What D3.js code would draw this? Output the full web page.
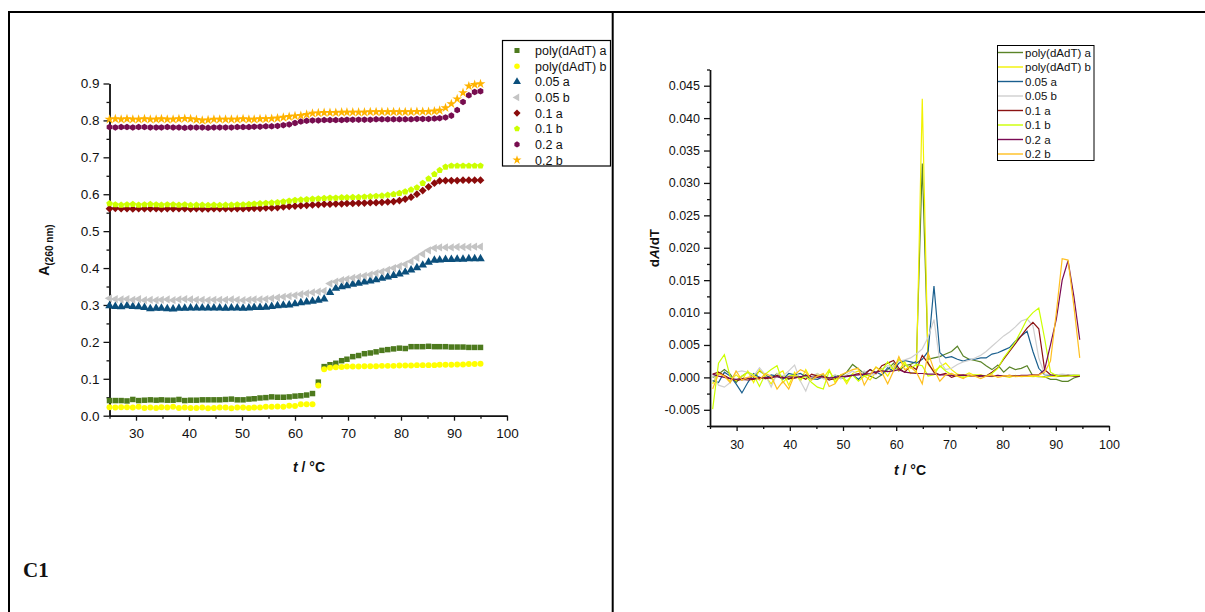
<!DOCTYPE html>
<html><head><meta charset="utf-8">
<script src="https://cdn.jsdelivr.net/npm/d3@7"></script>
<style>body{margin:0;background:#fff} svg{display:block} text{font-family:"Liberation Sans",Arial,sans-serif;fill:#111}</style>
</head><body><svg id="c" width="1205" height="612"></svg>
<script>
// ---------- DATA ----------
const seriesNames = ["poly(dAdT) a","poly(dAdT) b","0.05 a","0.05 b","0.1 a","0.1 b","0.2 a","0.2 b"];
const markerColors = ["#4d7a1e","#ffff00","#0b4f7c","#c4c4c4","#8b0b0b","#ccff00","#770d4f","#ffb300"];
const lineColors   = ["#5a8428","#f2f200","#1a5f8e","#cfcfcf","#8b1212","#ccff00","#7a0a55","#ffbf1f"];

// temperatures of absorbance readings (°C)
const temps = [25.0,26.1,27.2,28.3,29.4,30.5,31.6,32.7,33.8,34.8,35.9,37.0,38.1,39.2,40.3,41.4,42.5,43.6,44.7,45.8,
  46.9,48.0,49.1,50.2,51.3,52.3,53.4,54.5,55.6,56.7,57.8,58.9,60.0,61.1,62.2,63.3,64.4,65.5,66.6,67.7,
  68.8,69.8,70.9,72.0,73.1,74.2,75.3,76.4,77.5,78.6,79.7,80.8,81.9,83.0,84.1,85.2,86.3,87.3,88.4,89.5,
  90.6,91.7,92.8,93.9,95.0];
// temperatures of derivative points (°C)
const tempsMid = [25.5,26.6,27.7,28.8,29.9,31.0,32.1,33.2,34.3,35.4,36.5,37.6,38.7,39.8,40.9,42.0,43.0,44.1,45.2,46.3,
  47.4,48.5,49.6,50.7,51.8,52.9,54.0,55.1,56.2,57.3,58.4,59.5,60.5,61.6,62.7,63.8,64.9,66.0,67.1,68.2,
  69.3,70.4,71.5,72.6,73.7,74.8,75.9,76.9,78.0,79.1,80.2,81.3,82.4,83.5,84.6,85.7,86.8,87.9,89.0,90.1,
  91.2,92.3,93.4,94.5];

// Absorbance at 260 nm
const absPolyA = [0.041,0.041,0.041,0.040,0.044,0.041,0.042,0.043,0.042,0.043,0.042,0.042,0.044,0.041,0.042,0.042,0.043,0.043,0.043,0.043,
  0.044,0.045,0.043,0.043,0.045,0.046,0.048,0.049,0.051,0.050,0.050,0.051,0.053,0.054,0.056,0.060,0.091,
  0.133,0.138,0.142,0.149,0.153,0.160,0.163,0.168,0.170,0.173,0.177,0.179,0.181,0.183,0.182,0.187,0.187,0.187,0.188,0.187,0.187,0.187,0.186,0.186,0.186,0.185,0.185,0.185];
const absPolyB = [0.023,0.022,0.023,0.023,0.022,0.024,0.021,0.022,0.021,0.023,0.022,0.024,0.021,0.022,0.021,0.021,0.022,0.020,0.021,0.022,
  0.022,0.020,0.022,0.022,0.021,0.022,0.022,0.024,0.024,0.025,0.024,0.027,0.026,0.031,0.031,0.031,0.082,0.126,
  0.130,0.131,0.132,0.133,0.133,0.133,0.134,0.134,0.134,0.135,0.135,0.135,0.136,0.136,0.136,0.137,0.137,0.137,0.137,0.138,0.138,0.138,0.139,0.139,0.140,0.140,0.141];
const abs005A = [0.298,0.296,0.295,0.298,0.296,0.295,0.293,0.290,0.291,0.291,0.290,0.289,0.291,0.291,0.292,0.292,0.292,0.292,0.292,0.292,
  0.291,0.292,0.292,0.291,0.292,0.293,0.293,0.294,0.296,0.298,0.299,0.300,0.303,0.306,0.308,0.310,0.313,
  0.316,0.334,0.345,0.349,0.352,0.356,0.359,0.362,0.365,0.368,0.372,0.376,0.380,0.384,0.389,0.395,0.401,0.408,0.416,0.421,0.422,0.423,0.423,0.424,0.424,0.425,0.425,0.425];
const abs005B = [0.318,0.316,0.315,0.316,0.314,0.316,0.313,0.314,0.313,0.314,0.315,0.313,0.315,0.316,0.315,0.314,0.314,0.313,0.314,0.314,
  0.314,0.315,0.314,0.313,0.314,0.315,0.315,0.316,0.318,0.320,0.322,0.324,0.326,0.329,0.331,0.334,0.336,
  0.338,0.358,0.363,0.367,0.370,0.373,0.376,0.379,0.382,0.386,0.390,0.395,0.400,0.405,0.410,0.418,0.428,0.438,0.448,0.454,0.456,0.456,0.456,0.457,0.457,0.457,0.458,0.458];
const abs01A = [0.561,0.562,0.561,0.561,0.560,0.561,0.561,0.561,0.561,0.560,0.561,0.561,0.561,0.561,0.560,0.561,0.560,0.560,0.561,0.561,
  0.561,0.561,0.561,0.561,0.562,0.562,0.562,0.563,0.563,0.564,0.566,
  0.567,0.568,0.569,0.570,0.571,0.572,0.573,0.573,0.574,0.574,0.575,0.575,0.576,0.576,0.577,0.577,0.578,0.579,0.580,0.583,
  0.587,0.592,0.600,0.610,0.620,0.630,0.636,0.637,0.637,0.637,0.638,0.638,0.638,0.638];
const abs01B = [0.575,0.572,0.571,0.572,0.573,0.571,0.572,0.573,0.572,0.571,0.572,0.572,0.571,0.572,0.570,0.571,0.571,0.570,0.571,0.570,
  0.571,0.571,0.572,0.572,0.573,0.574,0.575,0.576,0.577,0.578,0.580,
  0.582,0.584,0.585,0.586,0.587,0.588,0.589,0.590,0.590,0.591,0.591,0.592,0.592,0.593,0.594,0.595,0.596,0.598,0.600,0.603,
  0.607,0.612,0.618,0.630,0.642,0.654,0.665,0.674,0.677,0.677,0.677,0.677,0.677,0.677];
const abs02A = [0.782,0.781,0.782,0.782,0.781,0.782,0.782,0.781,0.781,0.781,0.782,0.781,0.781,0.780,0.781,0.781,0.781,0.780,0.781,0.781,
  0.781,0.781,0.782,0.782,0.782,0.783,0.783,0.784,0.784,0.785,
  0.787,0.789,0.793,0.797,0.799,0.800,0.800,0.801,0.801,0.801,0.801,0.802,0.802,0.802,0.802,0.802,0.803,0.803,0.803,0.803,
  0.803,0.803,0.803,0.804,0.804,0.804,0.805,0.806,0.808,0.813,0.828,0.850,0.868,0.877,0.879];
const abs02B = [0.803,0.804,0.803,0.804,0.803,0.803,0.804,0.803,0.803,0.804,0.803,0.803,0.804,0.805,0.804,0.802,0.800,0.801,0.803,0.803,
  0.803,0.803,0.803,0.804,0.803,0.803,0.804,0.804,0.805,0.806,
  0.808,0.810,0.812,0.813,0.816,0.819,0.820,0.821,0.821,0.821,0.822,0.822,0.822,0.822,0.822,0.823,0.823,0.823,0.823,0.823,
  0.823,0.823,0.823,0.824,0.824,0.824,0.825,0.827,0.834,0.845,0.858,0.875,0.893,0.897,0.899];

// First derivative dA/dT
const dPolyA = [0.0000,0.0005,0.0012,0.0005,-0.0008,0.0002,0.0008,0.0000,0.0010,0.0004,-0.0002,0.0006,0.0001,-0.0003,0.0003,0.0000,0.0004,-0.0002,0.0002,0.0004,
  -0.0001,0.0003,0.0002,0.0008,0.0020,0.0013,0.0006,0.0002,-0.0002,0.0004,0.0012,0.0022,0.0010,0.0018,0.0020,
  0.0025,0.0330,
  0.0028,0.0030,0.0032,0.0036,0.0040,0.0048,0.0033,0.0028,0.0026,0.0024,0.0018,0.0012,0.0019,0.0008,0.0016,0.0012,0.0014,0.0018,0.0002,0.0001,0.0001,-0.0003,-0.0003,-0.0006,-0.0006,-0.0001,0.0002];
const dPolyB = [-0.0010,0.0008,0.0002,-0.0006,0.0004,-0.0004,0.0010,-0.0008,0.0012,0.0002,-0.0010,0.0005,0.0010,-0.0012,0.0008,-0.0006,0.0012,-0.0004,0.0006,-0.0002,
  0.0012,-0.0008,0.0004,-0.0010,0.0006,0.0010,0.0002,-0.0004,0.0008,0.0014,0.0002,0.0018,0.0010,0.0024,0.0006,
  0.0008,0.0430,0.0020,
  0.0010,0.0016,0.0022,0.0012,0.0005,0.0002,0.0007,0.0003,0.0004,0.0002,0.0001,0.0003,0.0002,0.0000,0.0003,0.0001,0.0002,0.0001,0.0002,0.0000,0.0002,0.0001,0.0002,0.0003,0.0004,0.0003];
const d005A = [-0.0005,-0.0008,0.0008,0.0002,-0.0010,-0.0024,-0.0008,0.0006,0.0000,-0.0002,0.0004,0.0002,-0.0003,0.0006,0.0004,0.0006,0.0001,-0.0002,-0.0003,0.0001,
  -0.0004,0.0002,-0.0002,0.0002,0.0004,-0.0003,0.0006,0.0012,0.0008,0.0004,0.0015,0.0010,0.0022,0.0026,0.0024,
  0.0022,0.0028,0.0040,0.0141,0.0038,0.0030,0.0032,0.0028,0.0025,0.0028,0.0028,0.0030,0.0030,0.0036,0.0038,0.0042,0.0046,0.0056,0.0064,0.0071,
  0.0040,0.0014,0.0004,0.0003,0.0003,0.0002,0.0003,0.0003,0.0002];
const d005B = [0.0005,-0.0012,-0.0015,-0.0008,0.0008,0.0010,0.0008,0.0002,0.0015,0.0004,-0.0015,0.0006,0.0002,0.0010,0.0019,-0.0006,-0.0021,0.0002,0.0006,-0.0002,
  -0.0004,0.0004,-0.0002,0.0004,0.0010,0.0004,0.0010,0.0003,0.0005,0.0012,0.0018,0.0016,0.0025,0.0027,0.0030,
  0.0036,0.0044,0.0062,0.0089,0.0024,0.0012,0.0014,0.0020,0.0024,0.0026,0.0030,0.0034,0.0040,0.0048,0.0056,0.0064,0.0070,0.0078,0.0087,0.0090,
  0.0080,0.0030,0.0005,0.0004,0.0004,0.0005,0.0004,0.0004,0.0004];
const d01A = [0.0005,0.0008,0.0003,-0.0002,-0.0005,-0.0003,-0.0004,-0.0003,0.0000,-0.0002,-0.0001,0.0003,0.0000,-0.0002,-0.0001,0.0001,-0.0003,0.0005,0.0002,0.0001,
  -0.0004,-0.0002,0.0001,0.0002,0.0003,0.0006,0.0004,0.0012,0.0006,0.0018,0.0022,0.0026,0.0014,0.0008,0.0018,
  0.0012,0.0034,0.0022,0.0008,0.0004,0.0006,0.0000,0.0003,0.0004,0.0002,0.0003,0.0001,0.0002,0.0008,0.0015,0.0028,0.0040,0.0052,0.0064,0.0076,
  0.0085,0.0075,0.0012,0.0004,0.0003,0.0002,0.0003,0.0002,0.0002];
const d01B = [-0.0049,0.0022,0.0035,0.0001,-0.0005,0.0002,0.0008,0.0004,-0.0014,0.0005,0.0012,0.0018,-0.0008,0.0002,0.0004,-0.0003,0.0002,-0.0008,-0.0015,-0.0018,
  0.0010,-0.0004,0.0004,-0.0006,0.0004,-0.0006,0.0002,0.0004,0.0016,0.0010,0.0024,0.0012,0.0028,0.0020,0.0014,
  0.0020,0.0018,0.0002,0.0004,0.0018,0.0010,0.0004,0.0002,0.0000,0.0002,0.0004,0.0003,0.0002,0.0006,0.0014,0.0030,0.0042,0.0055,0.0072,0.0090,
  0.0100,0.0107,0.0060,0.0008,0.0003,0.0002,0.0002,0.0003,0.0003];
const d02A = [0.0005,0.0002,0.0000,-0.0002,-0.0003,-0.0002,-0.0001,-0.0002,-0.0002,0.0000,0.0000,0.0001,-0.0001,0.0001,0.0000,0.0001,0.0003,0.0001,0.0000,0.0001,
  -0.0001,0.0000,0.0002,0.0001,0.0003,0.0004,0.0005,0.0006,0.0008,0.0010,0.0009,0.0010,0.0012,0.0008,0.0007,
  0.0006,0.0006,0.0005,0.0005,0.0004,0.0004,0.0003,0.0003,0.0003,0.0003,0.0002,0.0003,0.0002,0.0002,0.0003,0.0002,0.0003,0.0002,0.0003,0.0003,
  0.0004,0.0004,0.0012,0.0050,0.0090,0.0150,0.0180,0.0125,0.0058];
const d02B = [-0.0018,0.0006,0.0002,-0.0008,0.0010,-0.0004,0.0000,0.0002,-0.0004,0.0006,0.0002,-0.0018,-0.0006,-0.0018,0.0004,0.0012,0.0008,-0.0004,0.0002,0.0006,
  -0.0014,-0.0010,0.0004,0.0008,0.0012,0.0014,-0.0012,0.0004,0.0016,0.0008,-0.0010,0.0010,0.0032,0.0012,0.0016,
  0.0008,-0.0010,0.0038,0.0012,-0.0006,0.0004,0.0006,0.0002,-0.0002,0.0004,0.0002,-0.0002,0.0002,0.0004,0.0000,0.0002,0.0003,0.0001,0.0002,0.0002,
  0.0003,0.0004,0.0008,0.0025,0.0100,0.0183,0.0181,0.0110,0.0030];

const absSeries = [absPolyA,absPolyB,abs005A,abs005B,abs01A,abs01B,abs02A,abs02B];
const derivSeries = [dPolyA,dPolyB,d005A,d005B,d01A,d01B,d02A,d02B];

const xTicks = [30,40,50,60,70,80,90,100];
const xMinorTicks = [25,35,45,55,65,75,85,95];
const yTicksLeft = [0.0,0.1,0.2,0.3,0.4,0.5,0.6,0.7,0.8,0.9];
const yMinorLeft = [0.05,0.15,0.25,0.35,0.45,0.55,0.65,0.75,0.85];
const yTicksRight = [-0.005,0.000,0.005,0.010,0.015,0.020,0.025,0.030,0.035,0.040,0.045];
const yMinorRight = [-0.0075,-0.0025,0.0025,0.0075,0.0125,0.0175,0.0225,0.0275,0.0325,0.0375,0.0425,0.0475];

// ---------- SYMBOLS ----------
function polygonSym(n){return {draw(ctx,size){const r=Math.sqrt(size/(n/2*Math.sin(2*Math.PI/n)));
  for(let i=0;i<n;i++){const a=-Math.PI/2+2*Math.PI*i/n;const x=r*Math.cos(a),y=r*Math.sin(a);i?ctx.lineTo(x,y):ctx.moveTo(x,y);}ctx.closePath();}};}
const triLeft={draw(ctx,size){const r=Math.sqrt(size/1.299);ctx.moveTo(-r,0);ctx.lineTo(r*0.5,-r*0.866);ctx.lineTo(r*0.5,r*0.866);ctx.closePath();}};
const diamondSq={draw(ctx,size){const r=Math.sqrt(size/2);ctx.moveTo(0,-r);ctx.lineTo(r,0);ctx.lineTo(0,r);ctx.lineTo(-r,0);ctx.closePath();}};
const symTypes=[d3.symbolSquare,d3.symbolCircle,d3.symbolTriangle,triLeft,diamondSq,polygonSym(5),polygonSym(6),d3.symbolStar];
const symSizes=[30,28,32,30,30,28,28,30];

const svg=d3.select("#c");
svg.append("rect").attr("width",1205).attr("height",612).attr("fill","#fff");
// frame
svg.append("line").attr("x1",8).attr("x2",1205).attr("y1",12).attr("y2",12).attr("stroke","#000").attr("stroke-width",2);
svg.append("line").attr("x1",9).attr("x2",9).attr("y1",11).attr("y2",612).attr("stroke","#000").attr("stroke-width",2);

function drawAxes(g,x,y,yMaj,yMin,fmt,fs,pad){
  g.append("g").attr("transform",`translate(0,${y.range()[0]})`)
    .call(d3.axisBottom(x).tickValues(xTicks).tickSize(5).tickPadding(pad).tickSizeOuter(0));
  g.append("g").attr("transform",`translate(0,${y.range()[0]})`)
    .call(d3.axisBottom(x).tickValues(xMinorTicks).tickSize(3).tickFormat("").tickSizeOuter(0));
  g.append("g").attr("transform",`translate(${x.range()[0]},0)`)
    .call(d3.axisLeft(y).tickValues(yMaj).tickSize(6).tickPadding(4).tickFormat(fmt).tickSizeOuter(0));
  g.append("g").attr("transform",`translate(${x.range()[0]},0)`)
    .call(d3.axisLeft(y).tickValues(yMin).tickSize(3).tickFormat("").tickSizeOuter(0));
  g.selectAll(".domain").attr("stroke","#111").attr("stroke-width",1.4);
  g.selectAll(".tick line").attr("stroke","#111").attr("stroke-width",1.3);
  g.selectAll(".tick text").style("font-size",fs+"px").style("fill","#111");
}

// ---------- LEFT CHART ----------
const xL=d3.scaleLinear().domain([25,100]).range([109.5,507]);
const yL=d3.scaleLinear().domain([0,0.9]).range([415.7,83.5]);
const gL=svg.append("g");
drawAxes(gL,xL,yL,yTicksLeft,yMinorLeft,d=>d.toFixed(1),13.5,8);

absSeries.forEach((vals,si)=>{
  const sym=d3.symbol().type(symTypes[si]).size(symSizes[si]);
  gL.append("g").selectAll("path").data(vals).join("path")
    .attr("d",sym)
    .attr("transform",(d,i)=>`translate(${xL(temps[i])},${yL(d)})`)
    .attr("fill",markerColors[si]);
});

// left labels
const yl=gL.append("text").attr("transform","translate(49,250) rotate(-90)").attr("text-anchor","middle").attr("font-weight","bold");
yl.append("tspan").style("font-size","14px").text("A");
yl.append("tspan").style("font-size","10px").attr("dy",4).text("(260 nm)");
const xl=gL.append("text").attr("x",309).attr("y",472).attr("text-anchor","middle").attr("font-weight","bold").style("font-size","14px");
xl.append("tspan").attr("font-style","italic").text("t");
xl.append("tspan").text(" / °C");

// left legend
const legL=svg.append("g");
legL.append("rect").attr("x",502.5).attr("y",40.5).attr("width",108).attr("height",125.5).attr("fill","#fff").attr("stroke","#000").attr("stroke-width",1.2);
seriesNames.forEach((n,i)=>{
  const yy=50.5+i*15.65;
  legL.append("path").attr("d",d3.symbol().type(symTypes[i]).size(symSizes[i]*0.85)).attr("transform",`translate(517,${yy})`).attr("fill",markerColors[i]);
  legL.append("text").attr("x",535).attr("y",yy+4.5).style("font-size","12.5px").text(n);
});
svg.append("line").attr("x1",612.7).attr("x2",612.7).attr("y1",11).attr("y2",612).attr("stroke","#000").attr("stroke-width",2);

// ---------- RIGHT CHART ----------
const xR=d3.scaleLinear().domain([25,100]).range([710,1109]);
const yR=d3.scaleLinear().domain([-0.0075,0.0475]).range([426,69.5]);
const gR=svg.append("g");
drawAxes(gR,xR,yR,yTicksRight,yMinorRight,d=>d.toFixed(3),12.5,9);
const line=d3.line().x((d,i)=>xR(tempsMid[i])).y(d=>yR(d));
derivSeries.forEach((vals,si)=>{
  gR.append("path").datum(vals).attr("d",line).attr("fill","none").attr("stroke",lineColors[si]).attr("stroke-width",1.2);
});
const yr=gR.append("text").attr("transform","translate(659,248) rotate(-90)").attr("text-anchor","middle").attr("font-weight","bold").style("font-size","13.5px");
yr.append("tspan").text("d");
yr.append("tspan").attr("font-style","italic").text("A");
yr.append("tspan").text("/dT");
const xr=gR.append("text").attr("x",910).attr("y",475).attr("text-anchor","middle").attr("font-weight","bold").style("font-size","14px");
xr.append("tspan").attr("font-style","italic").text("t");
xr.append("tspan").text(" / °C");

// right legend
const legR=svg.append("g");
legR.append("rect").attr("x",997.5).attr("y",45.5).attr("width",96.5).attr("height",115).attr("fill","#fff").attr("stroke","#000").attr("stroke-width",1);
seriesNames.forEach((n,i)=>{
  const yy=52.5+i*14.5;
  legR.append("line").attr("x1",998).attr("x2",1023).attr("y1",yy).attr("y2",yy).attr("stroke",lineColors[i]).attr("stroke-width",1.4);
  legR.append("text").attr("x",1025).attr("y",yy+4).style("font-size","11.5px").text(n);
});

// panel label
svg.append("text").attr("x",23).attr("y",577)
  .style("font-family","'Liberation Serif','DejaVu Serif',serif").style("font-weight","bold").style("font-size","21px").text("C1");
</script></body></html>
